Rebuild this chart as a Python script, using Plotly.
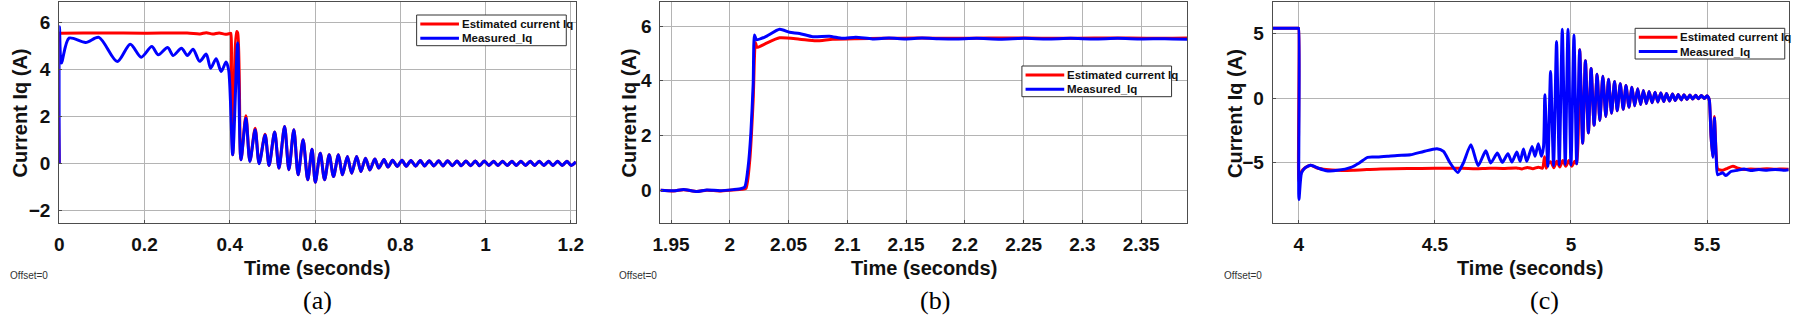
import plotly.graph_objects as go

# ---------------- Panel (a) ----------------
meas_a_t = [0, 0.0005, 0.005, 0.023, 0.062, 0.093, 0.136, 0.1666, 0.1922, 0.217, 0.2325,
            0.2542, 0.2674, 0.2867, 0.3007, 0.3139, 0.3294, 0.3449, 0.355, 0.3681, 0.3798,
            0.3914, 0.3975, 0.4069, 0.4185, 0.4263, 0.4379, 0.4472, 0.4596, 0.4689, 0.4829,
            0.4922, 0.5053, 0.5154, 0.5286, 0.5387, 0.5503, 0.5604, 0.572, 0.5829, 0.593,
            0.6007, 0.6123, 0.6224, 0.6333, 0.6433, 0.655, 0.6643, 0.6759, 0.686, 0.6976,
            0.7077, 0.7185, 0.7286, 0.7403, 0.7496, 0.7619, 0.7713, 0.782, 0.793, 0.804,
            0.814, 0.825, 0.836, 0.847, 0.857, 0.868, 0.879, 0.890, 0.900, 0.911, 0.922,
            0.933, 0.943, 0.954, 0.965, 0.976, 0.986, 0.997, 1.008, 1.019, 1.029, 1.040,
            1.051, 1.062, 1.072, 1.083, 1.094, 1.105, 1.115, 1.126, 1.137, 1.148, 1.158,
            1.169, 1.180, 1.191, 1.201, 1.212]
meas_a_i = [0, 5.8, 4.26, 5.32, 5.13, 5.35, 4.32, 5.06, 4.51, 4.96, 4.61,
            4.92, 4.58, 4.89, 4.58, 4.85, 4.33, 4.64, 4.04, 4.44, 3.90,
            4.30, 3.95, 0.35, 5.11, 0.14, 1.91, 0.07, 1.42, -0.03, 1.20,
            -0.10, 1.32, -0.21, 1.56, -0.28, 1.42, -0.50, 0.99, -0.71, 0.59,
            -0.82, 0.42, -0.71, 0.35, -0.57, 0.35, -0.50, 0.28, -0.43, 0.28,
            -0.36, 0.21, -0.29, 0.17, -0.21, 0.15, -0.17, 0.12, -0.14, 0.12,
            -0.13, 0.11, -0.13, 0.11, -0.12, 0.10, -0.12, 0.10, -0.12, 0.10, -0.11,
            0.09, -0.11, 0.09, -0.11, 0.09, -0.11, 0.09, -0.10, 0.08, -0.10, 0.08,
            -0.10, 0.08, -0.10, 0.08, -0.10, 0.08, -0.10, 0.08, -0.10, 0.08, -0.10,
            0.08, -0.10, 0.08, -0.10, 0.05]
est_a_head_t = [0, 0.001, 0.003, 0.1, 0.2, 0.3, 0.33, 0.345, 0.36, 0.375, 0.39, 0.401, 0.4025, 0.404,
                0.4069, 0.416, 0.4185, 0.4263, 0.4379, 0.4472, 0.4596, 0.4689, 0.4829]
est_a_head_i = [0, 5.53, 5.53, 5.54, 5.53, 5.54, 5.50, 5.55, 5.49, 5.54, 5.48, 5.52, 5.52, 3.9,
                0.35, 5.6, 5.55, 0.14, 2.02, 0.09, 1.48, 0.0, 1.23]
a_tail_start = 31  # index in meas_a_t where the estimate coincides with the measurement

# ---------------- Panel (b) ----------------
meas_b_t = [1.941, 1.9523, 1.9607, 1.9719, 1.9804, 1.9917, 2.0029, 2.0100, 2.0128, 2.0156,
            2.0179, 2.0199, 2.021, 2.0227, 2.030, 2.0424, 2.0508, 2.0593, 2.0706, 2.0846,
            2.0959, 2.1072, 2.1213, 2.1354, 2.1494, 2.1635, 2.1776, 2.1919, 2.21, 2.23,
            2.25, 2.27, 2.29, 2.31, 2.33, 2.35, 2.37, 2.389]
meas_b_i = [0.0, -0.024, 0.024, -0.05, 0.01, -0.02, 0.02, 0.06, 0.12, 0.85,
            2.07, 3.9, 5.67, 5.50, 5.60, 5.88, 5.77, 5.73, 5.61, 5.63,
            5.55, 5.59, 5.53, 5.56, 5.53, 5.56, 5.54, 5.53, 5.55, 5.52,
            5.55, 5.53, 5.55, 5.53, 5.55, 5.53, 5.54, 5.52]
est_b_t = [1.941, 1.9523, 1.9607, 1.9719, 1.9804, 1.9917, 2.0029, 2.0100, 2.0137, 2.017,
           2.0199, 2.0218, 2.0232, 2.030, 2.0424, 2.0593, 2.0734, 2.0875, 2.1072, 2.13,
           2.16, 2.19, 2.22, 2.25, 2.28, 2.31, 2.34, 2.37, 2.389]
est_b_i = [0.0, -0.03, 0.02, -0.05, 0.0, -0.03, 0.01, 0.03, 0.06, 1.1,
           3.3, 5.40, 5.22, 5.35, 5.57, 5.52, 5.46, 5.52, 5.54, 5.55,
           5.56, 5.55, 5.56, 5.56, 5.55, 5.56, 5.56, 5.55, 5.56]

# ---------------- Panel (c) ----------------
meas_c_t = [3.904, 3.99, 3.998, 3.9995, 4.0005, 4.0098, 4.022, 4.0438, 4.0705, 4.1009, 4.1433, 4.1919,
            4.2222, 4.2526, 4.289, 4.3254, 4.3618, 4.4103, 4.4589, 4.5074, 4.5316, 4.556,
            4.5839, 4.6045, 4.6324, 4.6591, 4.687, 4.7052, 4.7295, 4.7477, 4.7683, 4.7829,
            4.801, 4.8132, 4.8254, 4.8377, 4.857, 4.868, 4.880, 4.891, 4.899,
            4.904, 4.915, 4.925, 4.936, 4.947, 4.957, 4.968, 4.979, 4.989, 5.000,
            5.011, 5.021, 5.032, 5.043, 5.053, 5.064, 5.074, 5.085, 5.096, 5.106,
            5.117, 5.128, 5.138, 5.149, 5.160, 5.170, 5.181, 5.192, 5.202, 5.213,
            5.224, 5.234, 5.245, 5.256, 5.266, 5.277, 5.287, 5.298, 5.309, 5.319,
            5.330, 5.341, 5.351, 5.362, 5.373, 5.383, 5.394, 5.405, 5.415, 5.426,
            5.437, 5.447, 5.458, 5.468, 5.479, 5.490, 5.500,
            5.505, 5.5086, 5.5147, 5.5208, 5.5268, 5.534, 5.5389, 5.557, 5.5692, 5.5874,
            5.6117, 5.636, 5.6603, 5.69, 5.72, 5.75, 5.78, 5.80]
meas_c_i = [5.42, 5.42, 5.42, 5.42, -7.88, -5.82, -5.43, -5.22, -5.43, -5.64, -5.61, -5.38,
            -5.04, -4.60, -4.58, -4.52, -4.45, -4.40, -4.14, -3.93, -4.14, -5.04,
            -5.77, -5.04, -3.62, -5.25, -4.09, -5.04, -4.27, -4.99, -4.32, -4.96,
            -4.19, -4.91, -3.96, -4.91, -3.75, -4.52, -3.54, -4.52, -3.8,
            0.26, -5.30, 2.06, -5.25, 4.40, -5.20, 5.35, -5.15, 5.35, -5.20,
            4.90, -5.10, 3.75, -3.50, 2.90, -2.70, 2.30, -2.10, 1.85, -1.73,
            1.70, -1.42, 1.47, -1.17, 1.29, -0.98, 1.11, -0.86, 0.98, -0.70,
            0.85, -0.60, 0.72, -0.50, 0.60, -0.42, 0.52, -0.35, 0.46, -0.30,
            0.40, -0.26, 0.35, -0.22, 0.32, -0.18, 0.28, -0.14, 0.26, -0.10,
            0.24, -0.07, 0.22, -0.05, 0.20, -0.03, 0.18,
            0.05, -0.2, -3.0, -4.6, -1.55, -4.8, -5.95, -5.80, -6.02, -5.70,
            -5.61, -5.50, -5.62, -5.55, -5.60, -5.54, -5.60, -5.56]
est_c_head_t = [3.904, 3.99, 3.998, 3.9995, 4.0005, 4.0098, 4.022, 4.0438, 4.0705, 4.1009, 4.1433, 4.2,
                4.25, 4.3, 4.4, 4.5, 4.6, 4.65, 4.7, 4.75, 4.8, 4.82,
                4.84, 4.86, 4.88, 4.895, 4.903, 4.909, 4.915, 4.926, 4.937, 4.948,
                4.959, 4.970, 4.981, 4.992, 5.003, 5.014, 5.021]
est_c_head_i = [5.42, 5.42, 5.42, 5.42, -6.5, -5.70, -5.43, -5.22, -5.45, -5.55, -5.61, -5.60,
                -5.55, -5.50, -5.47, -5.45, -5.45, -5.48, -5.44, -5.46, -5.42, -5.50,
                -5.38, -5.48, -5.36, -5.45, -4.55, -5.45, -5.10, -4.95, -5.40, -4.90,
                -5.35, -4.85, -5.30, -4.85, -5.30, -4.90, -5.10]
c_mid_start = 53   # index in meas_c_t (5.032) where estimate coincides with measurement
c_mid_end = 98     # index in meas_c_t just after the last oscillation
est_c_tail_t = [5.505, 5.5086, 5.5147, 5.5208, 5.5268, 5.534, 5.5389, 5.557, 5.575, 5.595,
                5.615, 5.636, 5.66, 5.69, 5.72, 5.75, 5.78, 5.80]
est_c_tail_i = [0.05, -0.2, -3.0, -4.5, -1.42, -4.6, -5.50, -5.61, -5.45, -5.30,
                -5.45, -5.55, -5.50, -5.53, -5.49, -5.53, -5.50, -5.52]

# ---------------- Text ----------------
legend_names = ["Estimated current Iq", "Measured_Iq"]
y_title = "Current Iq (A)"
x_title = "Time (seconds)"
panel_labels = ["(a)", "(b)", "(c)"]

a_xticks = [0, 0.2, 0.4, 0.6, 0.8, 1.0, 1.2]
a_xtext = ["0", "0.2", "0.4", "0.6", "0.8", "1", "1.2"]
a_yticks = [-2, 0, 2, 4, 6]
b_xticks = [1.95, 2.0, 2.05, 2.1, 2.15, 2.2, 2.25, 2.3, 2.35]
b_xtext = ["1.95", "2", "2.05", "2.1", "2.15", "2.2", "2.25", "2.3", "2.35"]
b_yticks = [0, 2, 4, 6]
c_xticks = [4, 4.5, 5, 5.5]
c_xtext = ["4", "4.5", "5", "5.5"]
c_yticks = [-5, 0, 5]

est_a_t = est_a_head_t + meas_a_t[a_tail_start:]
est_a_i = est_a_head_i + meas_a_i[a_tail_start:]
est_c_t = est_c_head_t + meas_c_t[c_mid_start:c_mid_end] + est_c_tail_t
est_c_i = est_c_head_i + meas_c_i[c_mid_start:c_mid_end] + est_c_tail_i

RED = "#ff0000"
BLUE = "#0000ff"
LW = 3
COLORS = [RED, BLUE]

fig = go.Figure()
panels = [
    ("x", "y", est_a_t, est_a_i, meas_a_t, meas_a_i, 0.8),
    ("x2", "y2", est_b_t, est_b_i, meas_b_t, meas_b_i, 0.6),
    ("x3", "y3", est_c_t, est_c_i, meas_c_t, meas_c_i, 0.6),
]
for xa, ya, et, ei, mt, mi, sm in panels:
    fig.add_trace(go.Scatter(x=et, y=ei, xaxis=xa, yaxis=ya, mode="lines",
                             name=legend_names[0], showlegend=False,
                             line=dict(color=RED, width=LW, shape="spline", smoothing=sm)))
    fig.add_trace(go.Scatter(x=mt, y=mi, xaxis=xa, yaxis=ya, mode="lines",
                             name=legend_names[1], showlegend=False,
                             line=dict(color=BLUE, width=LW, shape="spline", smoothing=sm)))

tickfont = dict(family="Arial, Liberation Sans, sans-serif", size=19, color="#111111", weight="bold")
GRID = "#b4b4b4"
FRAME = "#4d4d4d"


def xax(domain, rng, tv, tt, anchor):
    return dict(domain=domain, range=rng, tickvals=tv, ticktext=tt, showgrid=True, anchor=anchor,
                gridcolor=GRID, gridwidth=1, showline=True, mirror=True, linecolor=FRAME,
                linewidth=1, ticks="inside", ticklen=3, tickcolor=FRAME, zeroline=False,
                tickfont=tickfont, ticklabelstandoff=4, fixedrange=True)


def yax(domain, rng, tv, anchor):
    return dict(domain=domain, range=rng, tickvals=tv, showgrid=True, anchor=anchor,
                gridcolor=GRID, gridwidth=1, showline=True, mirror=True, linecolor=FRAME,
                linewidth=1, ticks="inside", ticklen=3, tickcolor=FRAME, zeroline=False,
                tickfont=tickfont, ticklabelstandoff=4, fixedrange=True)


W, H = 1800, 315
ydom = [1 - 223 / H, 1 - 1.7 / H]

fig.update_layout(
    width=W, height=H, margin=dict(l=0, r=0, t=0, b=0),
    paper_bgcolor="white", plot_bgcolor="white", showlegend=False,
    xaxis=xax([51.7 / W, 573 / W], [0, 1.212], a_xticks, a_xtext, "y"),
    yaxis=yax(ydom, [-2.55, 6.87], a_yticks, "x"),
    xaxis2=xax([658.3 / W, 1189.6 / W], [1.941, 2.389], b_xticks, b_xtext, "y2"),
    yaxis2=yax(ydom, [-1.2, 6.89], b_yticks, "x2"),
    xaxis3=xax([1276 / W, 1796.7 / W], [3.904, 5.80], c_xticks, c_xtext, "y3"),
    yaxis3=yax(ydom, [-9.7, 7.49], c_yticks, "x3"),
)

# ---- legend boxes (one per panel), positioned in pixels ----
legfont = dict(family="Arial, Liberation Sans, sans-serif", size=11.5, color="#111111", weight="bold")
legend_boxes = [(412.3, 15.0), (1023.0, 66.0), (1641.7, 28.3)]  # left, top in px
LEG_W, LEG_H = 151.0, 30.7
for bx, by in legend_boxes:
    fig.add_shape(type="rect", xref="paper", yref="paper",
                  x0=bx / W, x1=(bx + LEG_W) / W, y0=1 - (by + LEG_H) / H, y1=1 - by / H,
                  line=dict(color="#333333", width=1), fillcolor="white", layer="above")
    for k, (name, col) in enumerate(zip(legend_names, COLORS)):
        ry = by + 9.0 + 14.3 * k
        fig.add_shape(type="line", xref="paper", yref="paper",
                      x0=(bx + 3.7) / W, x1=(bx + 42.7) / W, y0=1 - ry / H, y1=1 - ry / H,
                      line=dict(color=col, width=LW), layer="above")
        fig.add_annotation(text=name, x=(bx + 44.5) / W, y=1 - ry / H, xref="paper", yref="paper",
                           showarrow=False, xanchor="left", yanchor="middle", font=legfont,
                           borderpad=0)

titlefont = dict(family="Arial, Liberation Sans, sans-serif", size=20, color="#111111", weight="bold")
for cx in [312, 924, 1536]:
    fig.add_annotation(text=x_title, x=cx / W, y=1 - 268 / H, xref="paper", yref="paper",
                       showarrow=False, xanchor="center", yanchor="middle", font=titlefont)
for cx in [12.5, 627, 1238]:
    fig.add_annotation(text=y_title, x=cx / W, y=1 - 113 / H, xref="paper", yref="paper",
                       showarrow=False, xanchor="center", yanchor="middle", textangle=-90,
                       font=titlefont)
for lx in [0, 614, 1225]:
    fig.add_annotation(text="Offset=0", x=lx / W, y=1 - 275 / H, xref="paper", yref="paper",
                       showarrow=False, xanchor="left", yanchor="middle",
                       font=dict(family="Arial, Liberation Sans, sans-serif", size=10, color="#333333"))
for cx, lab in zip([312, 935, 1550], panel_labels):
    fig.add_annotation(text=lab, x=cx / W, y=1 - 300 / H, xref="paper", yref="paper",
                       showarrow=False, xanchor="center", yanchor="middle",
                       font=dict(family="Liberation Serif, Times New Roman, serif", size=26, color="black"))

fig.write_html("out.html", config={"displayModeBar": False},
               post_script="document.body.style.margin='0';document.body.style.overflow='hidden';")
